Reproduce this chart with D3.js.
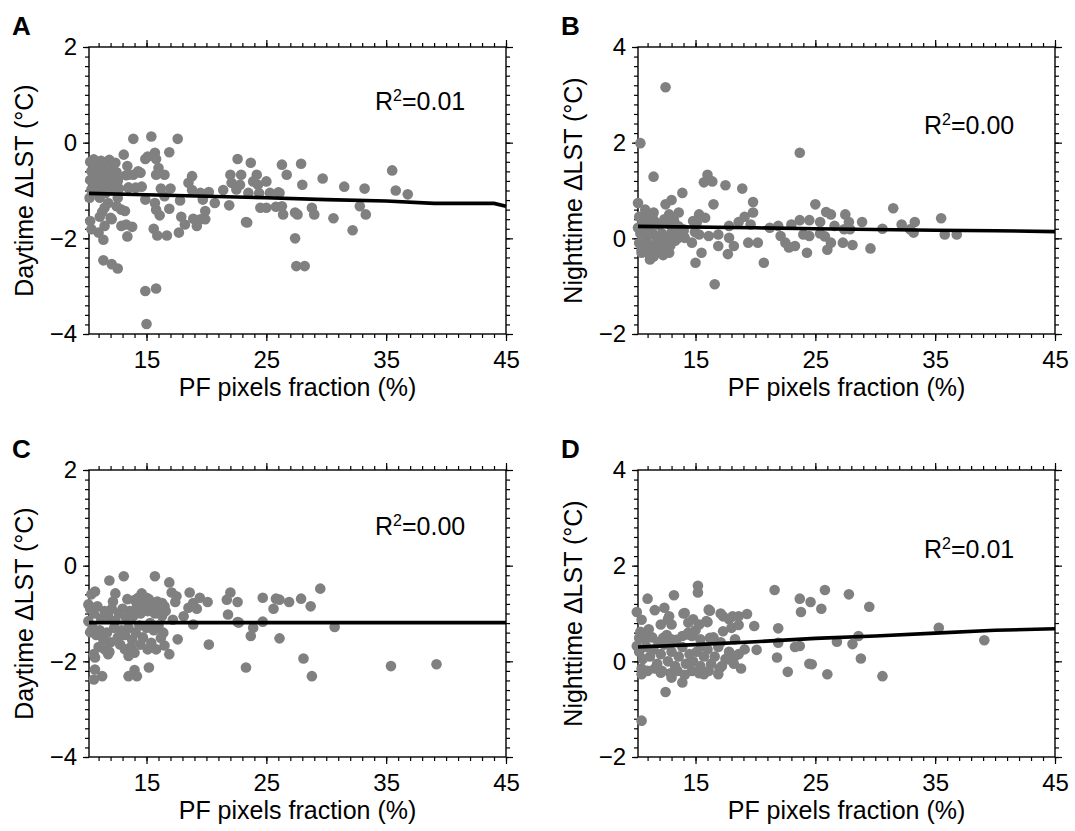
<!DOCTYPE html>
<html>
<head>
<meta charset="utf-8">
<script src="https://d3js.org/d3.v7.min.js"></script>
<style>
  body { margin: 0; background: #fff; }
  text { font-family: "Liberation Sans", Arial, sans-serif; fill: #000; }
</style>
</head>
<body>
<script>
// scatter values [PF fraction %, dLST]
const ptsA = [
  [13.9,0.08],[15.4,0.13],[17.6,0.08],
  [13.1,-0.25],[16.9,-0.2],[15.7,-0.21],[15.1,-0.29],[14.9,-0.34],[15.8,-0.34],[22.6,-0.34],[23.7,-0.42],
  [13.4,-0.49],[16.0,-0.53],[14.3,-0.6],[13.9,-0.67],[13.3,-0.68],[15.8,-0.67],[16.5,-0.67],[18.8,-0.7],[22.0,-0.67],[22.9,-0.67],[24.2,-0.67],
  [18.5,-0.84],[23.9,-0.81],[22.1,-0.84],[22.8,-0.88],[22.5,-0.98],[14.6,-0.92],[16.2,-0.96],[17.0,-0.96],[13.5,-0.94],[12.7,-0.96],
  [18.8,-0.99],[19.5,-1.05],[20.2,-1.03],[21.4,-0.99],[23.5,-1.05],[24.4,-1.06],
  [11.1,-1.15],[12.6,-1.15],[14.9,-1.19],[16.5,-1.12],[17.8,-1.21],[19.7,-1.19],[20.7,-1.26],[21.9,-1.31],[24.5,-1.36],
  [11.8,-1.26],[11.5,-1.36],[11.3,-1.45],[11.1,-1.55],[12.5,-1.33],[12.9,-1.4],[13.2,-1.43],
  [15.7,-1.26],[15.8,-1.4],[16.1,-1.52],[16.9,-1.38],[17.9,-1.55],[18.2,-1.71],
  [18.9,-1.59],[19.5,-1.6],[19.9,-1.6],[19.2,-1.74],[19.9,-1.43],[23.4,-1.67],
  [10.3,-1.64],[10.4,-1.81],[11.0,-1.88],[11.4,-2.03],[12.0,-1.57],[11.5,-1.74],[12.1,-1.6],
  [12.9,-1.74],[13.3,-1.71],[13.8,-1.76],[13.4,-1.96],[15.6,-1.8],[15.9,-1.94],[16.7,-1.94],[17.7,-1.88],
  [11.4,-2.46],[12.1,-2.54],[12.6,-2.63],[14.9,-3.1],[15.8,-3.05],[15.0,-3.79],
  [26.3,-0.46],[27.9,-0.44],[26.7,-0.67],[28.0,-0.88],[29.7,-0.75],[26.1,-1.05],[31.5,-0.92],[33.2,-0.96],[35.5,-0.58],[35.8,-1.0],[36.8,-1.08],
  [26.3,-1.33],[26.4,-1.5],[27.6,-1.5],[28.8,-1.36],[29.0,-1.5],[30.6,-1.58],[32.8,-1.33],[33.3,-1.5],[32.2,-1.83],[27.4,-2.0],[27.5,-2.58],[28.2,-2.58],
  [24.3,-0.88],[25.0,-0.81],[25.3,-1.05],[26.0,-1.04],[25.0,-1.36],[25.8,-1.34],[23.3,-1.66],[27.4,-1.46],
  [10.3,-0.4],[10.6,-0.35],[10.9,-0.45],[11.2,-0.38],[11.5,-0.42],[11.9,-0.36],[12.2,-0.5],[12.4,-0.42],
  [10.4,-0.6],[10.7,-0.55],[11.0,-0.65],[11.3,-0.58],[11.7,-0.62],[12.0,-0.7],[12.5,-0.62],
  [10.3,-0.78],[10.6,-0.85],[10.9,-0.75],[11.2,-0.88],[11.5,-0.78],[11.8,-0.9],[12.2,-0.85],[12.6,-0.8],
  [10.4,-0.98],[10.8,-1.02],[11.1,-0.95],[11.6,-1.05],[12.0,-1.0],[10.25,-1.15],
  [13.5,-0.67],[14.5,-0.63],[13.5,-0.94],[14.1,-0.94],[12.2,-0.49],[12.6,-0.77]
];
const ptsB = [
  [10.4,1.99],[11.5,1.29],[23.7,1.79],[12.5,3.16],
  [16.0,1.33],[15.7,1.17],[16.4,1.19],[17.5,1.11],[18.9,1.04],[13.9,0.95],[10.2,0.74],[19.8,0.76],[16.5,0.71],[12.5,0.71],[13.0,0.8],
  [10.95,0.5],[11.5,0.54],[12.8,0.5],[13.6,0.54],[15.3,0.5],[15.8,0.43],[19.8,0.54],[19.1,0.45],[14.8,0.36],[18.6,0.34],
  [23.0,0.29],[21.9,0.26],[21.2,0.22],[17.8,0.26],[19.6,0.29],
  [14.1,0.01],[14.7,-0.09],[15.3,0.08],[16.1,0.05],[16.9,0.08],[16.9,-0.16],[17.8,0.01],[18.2,-0.16],[17.7,-0.33],[15.5,-0.3],[15.0,-0.51],
  [19.4,-0.09],[20.2,-0.09],[20.7,-0.51],[16.6,-0.96],[22.1,0.05],[22.5,-0.09],[22.8,-0.19],[23.3,-0.16],
  [12.1,-0.3],[11.2,-0.44],[10.5,-0.3],
  [25.0,0.71],[25.9,0.55],[26.3,0.5],[27.5,0.5],[27.8,0.34],[28.9,0.34],[31.5,0.63],[32.2,0.29],[33.3,0.34],[32.9,0.19],[33.2,0.12],[35.5,0.42],[35.8,0.08],[36.8,0.08],[30.6,0.2],
  [23.7,0.38],[24.5,0.38],[25.4,0.34],[24.0,0.08],[24.5,0.05],[25.4,0.1],[25.8,0.04],[26.3,-0.09],[27.3,-0.09],[28.1,-0.14],[24.3,-0.3],[26.0,-0.24],[29.6,-0.21],[26.6,0.26],[27.4,0.19],[27.9,0.19],
  [10.3,0.45],[10.6,0.3],[10.9,0.4],[11.2,0.25],[11.6,0.35],[12.0,0.28],[12.4,0.4],[12.8,0.3],[13.2,0.38],[13.6,0.25],
  [10.4,0.1],[10.7,0.15],[11.0,0.05],[11.4,0.12],[11.8,0.0],[12.2,0.1],[12.6,0.02],[13.0,0.12],[13.5,0.05],[14.0,0.15],
  [10.3,-0.1],[10.6,-0.15],[10.9,-0.05],[11.3,-0.2],[11.7,-0.1],[12.1,-0.2],[12.5,-0.08],[12.9,-0.15],[13.3,-0.05],
  [10.5,-0.25],[11.0,-0.3],[11.5,-0.38],[11.9,-0.28],[12.3,-0.35],[12.8,-0.3],[10.2,0.22],[10.8,0.6],[11.4,0.45],
  [12.0,-0.23],[13.6,0.01],[14.0,0.19],[14.95,0.13],[15.1,0.33]
];
const ptsC = [
  [13.1,-0.22],[11.9,-0.31],[15.7,-0.22],[16.9,-0.35],[10.4,-0.6],[10.7,-0.54],[12.4,-0.58],
  [14.6,-0.58],[14.3,-0.67],[15.0,-0.67],[17.1,-0.56],[17.5,-0.64],[17.4,-0.76],
  [18.6,-0.56],[19.45,-0.67],[20.1,-0.76],[18.9,-0.78],[18.5,-0.88],[19.2,-0.9],[16.5,-0.85],
  [22.0,-0.56],[21.7,-0.71],[22.6,-0.76],[24.7,-0.67],[21.8,-1.02],[22.6,-1.18],[23.9,-1.3],[23.7,-1.47],[23.3,-2.13],
  [17.2,-1.13],[18.1,-1.06],[18.9,-1.23],[20.2,-1.65],[17.6,-1.54],
  [16.2,-1.51],[16.5,-1.67],[15.4,-1.61],[15.8,-1.75],[15.1,-1.75],[16.9,-1.85],[15.2,-2.13],
  [13.5,-1.89],[14.0,-1.82],[13.2,-1.75],[13.5,-2.31],[14.2,-2.31],[14.0,-2.18],
  [10.6,-1.85],[10.7,-1.92],[10.7,-2.17],[11.3,-2.31],[10.6,-2.38],[11.5,-1.75],[11.8,-1.85],
  [10.15,-0.81],[10.15,-1.16],[10.3,-1.39],
  [26.1,-0.71],[26.9,-0.76],[27.9,-0.69],[28.7,-0.85],[29.5,-0.48],[30.7,-1.28],[26.1,-1.52],[28.1,-1.94],[28.8,-2.31],[35.4,-2.1],[39.2,-2.06],
  [25.8,-0.69],[25.6,-0.9],[24.7,-1.17],[22.7,-1.19],
  [10.3,-0.9],[10.6,-1.0],[10.9,-0.85],[11.2,-1.1],[11.5,-0.95],[11.8,-1.05],[12.1,-0.9],[12.4,-1.15],[12.7,-1.0],[13.0,-0.9],[13.3,-1.1],
  [13.6,-0.95],[13.9,-1.05],[14.2,-0.85],[14.5,-1.0],[14.8,-0.8],[15.1,-0.95],[15.4,-0.85],[15.7,-1.0],[16.0,-0.9],[16.3,-1.05],[16.6,-0.95],
  [10.5,-1.3],[10.8,-1.45],[11.1,-1.35],[11.4,-1.55],[11.7,-1.4],[12.0,-1.6],[12.3,-1.3],[12.6,-1.5],[12.9,-1.35],[13.2,-1.45],[13.5,-1.3],
  [13.8,-1.55],[14.1,-1.4],[14.4,-1.25],[14.7,-1.5],[15.0,-1.3],[15.3,-1.2],[15.6,-1.35],[16.0,-1.25],[16.4,-1.4],
  [11.0,-1.7],[11.9,-1.8],[12.8,-1.65],[13.7,-1.7],[14.5,-1.65],[12.2,-0.75],[13.4,-0.7],[14.0,-0.72],[15.2,-0.7],[15.9,-0.75],[16.3,-0.78]
];
const ptsD = [
  [15.2,1.58],[15.2,1.44],[13.2,1.38],[11.0,1.31],[21.6,1.49],[23.7,1.31],[24.6,1.24],[23.8,1.03],
  [10.1,1.03],[10.5,0.87],[11.6,1.07],[12.4,1.12],[12.8,0.94],[13.0,0.77],
  [12.1,0.77],[11.1,0.67],[10.8,0.56],[10.3,0.49],[10.1,0.32],
  [14.0,1.0],[14.8,0.88],[15.3,0.77],[16.0,0.82],[16.2,1.06],[17.1,1.0],[17.8,0.88],[17.3,0.63],[18.0,0.7],
  [18.6,0.94],[19.3,0.99],[19.9,0.74],[18.6,0.76],[21.9,0.69],
  [13.9,0.53],[14.7,0.53],[15.4,0.46],[16.2,0.49],[15.5,0.32],[13.0,0.46],[12.3,0.49],
  [18.3,0.46],[19.1,0.25],[20.1,0.24],[18.3,0.11],[17.8,0.04],[21.9,0.39],[23.3,0.3],[21.8,0.08],
  [24.5,-0.05],[22.7,-0.22],[18.8,-0.15],[16.9,-0.27],[15.7,-0.27],[13.9,-0.44],[13.0,-0.34],[12.1,-0.24],[10.5,-0.27],[12.5,-0.64],
  [10.5,-1.24],[12.7,0.88],[14.1,1.01],[14.4,0.81],[14.3,0.56],[16.1,1.08],[15.9,0.84],[17.3,0.94],[18.1,0.94],
  [25.8,1.49],[27.8,1.4],[29.5,1.14],[25.5,1.1],[35.3,0.7],[39.1,0.44],[26.8,0.41],[28.1,0.36],[28.6,0.53],[28.8,0.06],
  [24.7,-0.06],[26.0,-0.27],[30.6,-0.31],[23.7,0.32],
  [10.3,0.2],[10.6,0.05],[10.9,0.3],[11.2,0.1],[11.5,0.25],[11.8,-0.05],[12.1,0.15],[12.4,0.35],[12.7,0.0],[13.0,0.2],[13.3,-0.1],
  [13.6,0.1],[13.9,0.3],[14.2,-0.05],[14.5,0.15],[14.8,0.0],[15.1,0.2],[15.4,-0.1],[15.7,0.1],[16.0,0.25],[16.3,-0.05],[16.6,0.1],
  [16.9,0.3],[17.2,-0.1],[17.5,0.05],[17.8,0.2],[18.2,-0.05],[18.6,0.15],
  [10.5,-0.15],[11.0,-0.2],[11.6,-0.15],[12.2,-0.2],[12.9,-0.25],[13.5,-0.2],[14.1,-0.28],[14.7,-0.2],[15.3,-0.25],[16.1,-0.2],[17.0,-0.15],
  [10.8,0.45],[11.4,0.5],[12.6,0.55],[13.4,0.45],[14.4,0.6],[15.0,0.65],[16.5,0.5],[17.1,0.4],[10.4,0.62],[11.9,0.4]
];

// fitted lines
const fitA = [[10.2,-1.06],[15,-1.09],[20,-1.12],[25,-1.15],[30,-1.19],[35,-1.22],[39,-1.27],[44,-1.27],[45,-1.33]];
const fitB = [[10.2,0.25],[20,0.22],[25,0.2],[35,0.17],[40,0.16],[45,0.14]];
const fitC = [[10.2,-1.19],[45,-1.19]];
const fitD = [[10.2,0.3],[15,0.35],[20,0.41],[25,0.48],[30,0.53],[35,0.59],[40,0.65],[45,0.68]];

const xTicks = [15, 25, 35, 45];
const yTicksDay = [-4, -2, 0, 2];
const yTicksNight = [-2, 0, 2, 4];
const r2Values = ["0.01", "0.00", "0.00", "0.01"];

const W = 417, H = 287;
const svg = d3.select("body").append("svg")
  .attr("width", 1075).attr("height", 831);

const panels = [
  {letter: "A", left: 89,  top: 47,  pts: ptsA, fit: fitA, yDom: [-4, 2], yTicks: yTicksDay,   ylab: "Daytime \u0394LST (\u00B0C)",   r2: r2Values[0], r2y: 63},
  {letter: "B", left: 638, top: 47,  pts: ptsB, fit: fitB, yDom: [-2, 4], yTicks: yTicksNight, ylab: "Nighttime \u0394LST (\u00B0C)", r2: r2Values[1], r2y: 87},
  {letter: "C", left: 89,  top: 470, pts: ptsC, fit: fitC, yDom: [-4, 2], yTicks: yTicksDay,   ylab: "Daytime \u0394LST (\u00B0C)",   r2: r2Values[2], r2y: 65},
  {letter: "D", left: 638, top: 470, pts: ptsD, fit: fitD, yDom: [-2, 4], yTicks: yTicksNight, ylab: "Nighttime \u0394LST (\u00B0C)", r2: r2Values[3], r2y: 88}
];

panels.forEach(function(p) {
  const g = svg.append("g").attr("transform", "translate(" + p.left + "," + p.top + ")");
  const x = d3.scaleLinear().domain([10.2, 45]).range([0, W]);
  const y = d3.scaleLinear().domain(p.yDom).range([H, 0]);

  const xMinor = d3.range(11, 46);
  const yMinor = d3.range(p.yDom[0], p.yDom[1] + 0.001, 0.2);

  // minor ticks on all four sides
  g.append("g").attr("transform", "translate(0," + H + ")")
    .call(d3.axisBottom(x).tickValues(xMinor).tickSize(4).tickFormat(""));
  g.append("g").call(d3.axisTop(x).tickValues(xMinor).tickSize(4).tickFormat(""));
  g.append("g").call(d3.axisLeft(y).tickValues(yMinor).tickSize(4).tickFormat(""));
  g.append("g").attr("transform", "translate(" + W + ",0)")
    .call(d3.axisRight(y).tickValues(yMinor).tickSize(4).tickFormat(""));

  // major ticks
  g.append("g").attr("class", "xax").attr("transform", "translate(0," + H + ")")
    .call(d3.axisBottom(x).tickValues(xTicks).tickSize(7).tickPadding(10).tickFormat(d3.format("d")));
  g.append("g").call(d3.axisTop(x).tickValues(xTicks).tickSize(7).tickFormat(""));
  g.append("g").attr("class", "yax")
    .call(d3.axisLeft(y).tickValues(p.yTicks).tickSize(6).tickPadding(6).tickFormat(d3.format("d")));
  g.append("g").attr("transform", "translate(" + W + ",0)")
    .call(d3.axisRight(y).tickValues(p.yTicks).tickSize(7).tickFormat(""));

  g.selectAll(".domain").remove();
  g.selectAll(".tick line").attr("stroke", "#000").attr("stroke-width", 1.2);
  g.selectAll(".xax text, .yax text")
    .style("font-family", "'Liberation Sans', Arial, sans-serif")
    .style("font-size", "24px").attr("fill", "#000");

  // frame
  g.append("rect").attr("width", W).attr("height", H)
    .attr("fill", "none").attr("stroke", "#000").attr("stroke-width", 1.4);

  // dots
  g.selectAll("circle").data(p.pts).enter().append("circle")
    .attr("cx", function(d) { return x(d[0]); })
    .attr("cy", function(d) { return y(d[1]); })
    .attr("r", 5.3)
    .attr("fill", "#808080");

  // fit line
  g.append("path").datum(p.fit)
    .attr("d", d3.line().x(function(d) { return x(d[0]); }).y(function(d) { return y(d[1]); }))
    .attr("fill", "none").attr("stroke", "#000").attr("stroke-width", 3.6);

  // R2 label
  const t = g.append("text").attr("x", 286).attr("y", p.r2y).style("font-size", "25px");
  t.append("tspan").text("R");
  t.append("tspan").attr("dy", -9).style("font-size", "16px").text("2");
  t.append("tspan").attr("dy", 9).text("=" + p.r2);

  // axis titles
  g.append("text").attr("x", W / 2).attr("y", H + 62)
    .attr("text-anchor", "middle").style("font-size", "25px")
    .text("PF pixels fraction (%)");
  g.append("text")
    .attr("transform", "translate(-56," + (H / 2) + ") rotate(-90)")
    .attr("text-anchor", "middle").style("font-size", "25px")
    .text(p.ylab);

  // panel letter
  g.append("text").attr("x", -77).attr("y", -12)
    .style("font-size", "26px").style("font-weight", "bold")
    .text(p.letter);
});
</script>
</body>
</html>
